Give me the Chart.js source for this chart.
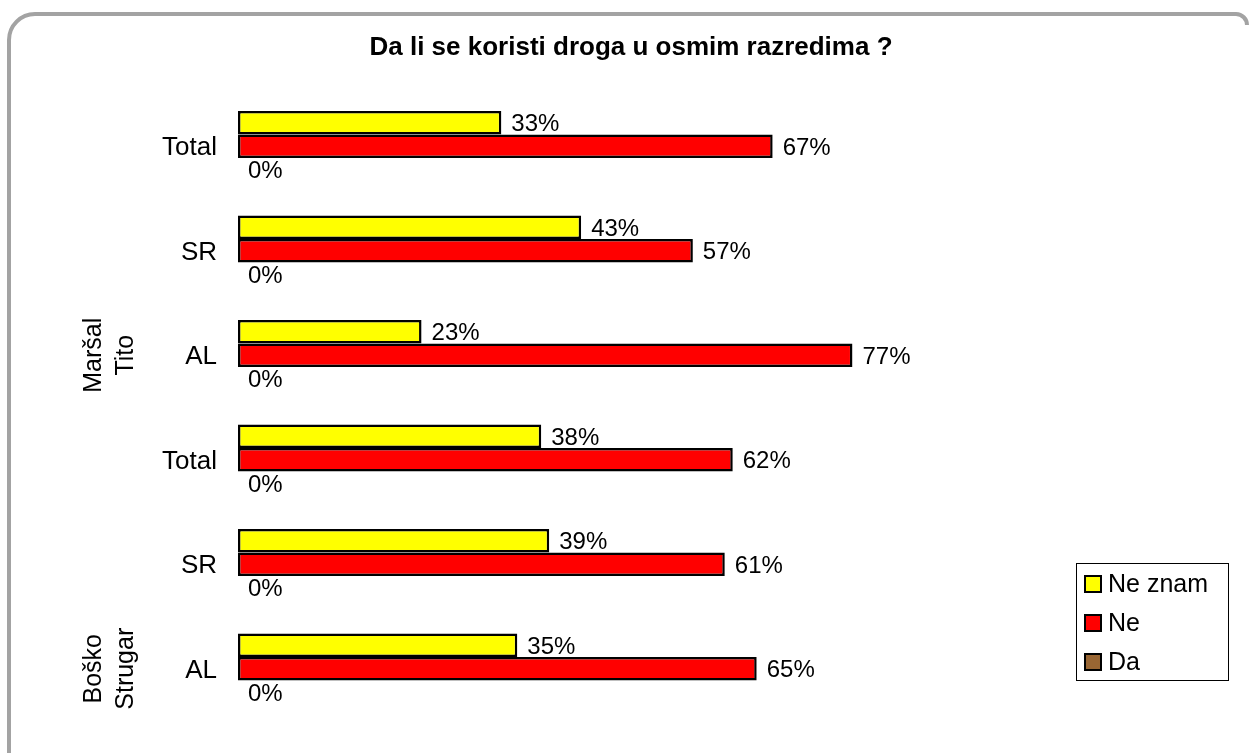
<!DOCTYPE html>
<html>
<head>
<meta charset="utf-8">
<script src="https://cdn.jsdelivr.net/npm/chart.js@4/dist/chart.umd.min.js"></script>
<style>
  html, body { margin: 0; padding: 0; background: #fff; }
  canvas { display: block; }
</style>
</head>
<body>
<canvas id="chartDroga" width="1249" height="753"></canvas>
<script>
// podaci sa slike (odozgo nadole)
const kategorije = ['Total', 'SR', 'AL', 'Total', 'SR', 'AL'];
const skole = [['Maršal', 'Tito'], ['Boško', 'Strugar']];
const neZnam = [33, 43, 23, 38, 39, 35];
const ne = [67, 57, 77, 62, 61, 65];
const da = [0, 0, 0, 0, 0, 0];
const naslov = 'Da li se koristi droga u osmim razredima ?';

const FONT = '"Liberation Sans", Arial, sans-serif';

// okvir, naslov, oznake kategorija, legenda i vrijednosti uz stupce
const crtez = {
  id: 'crtez',
  afterDraw(chart) {
    const ctx = chart.ctx;
    ctx.save();

    // zaobljeni sivi okvir (gornja i lijeva strana)
    ctx.strokeStyle = '#a3a3a3';
    ctx.lineWidth = 4;
    ctx.beginPath();
    ctx.moveTo(9, 760);
    ctx.lineTo(9, 40);
    ctx.arcTo(9, 14, 35, 14, 26);
    ctx.lineTo(1236, 14);
    ctx.arcTo(1247, 14, 1247, 25, 11);
    ctx.stroke();

    // naslov
    ctx.fillStyle = '#000';
    ctx.font = 'bold 26px ' + FONT;
    ctx.textAlign = 'center';
    ctx.textBaseline = 'middle';
    ctx.fillText(naslov, 631, 48);

    // kategorije
    const yScale = chart.scales.y;
    ctx.font = '26px ' + FONT;
    ctx.textAlign = 'right';
    kategorije.forEach((k, i) => {
      ctx.fillText(k, 217, yScale.getPixelForValue(i) + 2);
    });

    // nazivi skola, rotirano, poravnato uz AL
    ctx.font = '25px ' + FONT;
    skole.forEach((linije, g) => {
      const cy = yScale.getPixelForValue(g * 3 + 2);
      linije.forEach((t, j) => {
        ctx.save();
        ctx.translate(94 + j * 32, cy);
        ctx.rotate(-Math.PI / 2);
        ctx.textAlign = 'center';
        ctx.fillText(t, 0, 0);
        ctx.restore();
      });
    });

    // vrijednosti
    ctx.font = '24px ' + FONT;
    ctx.textAlign = 'left';
    chart.data.datasets.forEach((ds, di) => {
      chart.getDatasetMeta(di).data.forEach((el, i) => {
        ctx.fillText(ds.data[i] + '%', el.x + 10, el.y + 2);
      });
    });

    // legenda
    ctx.font = '25px ' + FONT;
    ctx.lineWidth = 1;
    ctx.strokeStyle = '#000';
    ctx.strokeRect(1076.5, 563.5, 152, 117);
    chart.data.datasets.forEach((ds, di) => {
      const y = 584 + di * 39;
      ctx.fillStyle = ds.backgroundColor;
      ctx.fillRect(1085, y - 8, 16, 16);
      ctx.lineWidth = 2;
      ctx.strokeRect(1085, y - 8, 16, 16);
      ctx.fillStyle = '#000';
      ctx.fillText(ds.label, 1108, y + 1);
    });

    ctx.restore();
  }
};

new Chart(document.getElementById('chartDroga'), {
  type: 'bar',
  data: {
    labels: kategorije,
    datasets: [
      { label: 'Ne znam', data: neZnam, backgroundColor: '#ffff00', borderColor: '#000', borderWidth: 2.5, borderSkipped: false },
      { label: 'Ne', data: ne, backgroundColor: '#ff0000', borderColor: '#000', borderWidth: 2.5, borderSkipped: false },
      { label: 'Da', data: da, backgroundColor: '#996633', borderColor: '#000', borderWidth: 0, borderSkipped: false }
    ]
  },
  options: {
    indexAxis: 'y',
    responsive: false,
    animation: false,
    devicePixelRatio: 1,
    categoryPercentage: 0.675,
    barPercentage: 1,
    layout: { padding: { left: 238, right: 213, top: 94, bottom: 32 } },
    scales: {
      x: { display: false, min: 0, max: 100 },
      y: { display: false }
    },
    plugins: {
      legend: { display: false },
      title: { display: false },
      tooltip: { enabled: false }
    }
  },
  plugins: [crtez]
});
</script>
</body>
</html>
